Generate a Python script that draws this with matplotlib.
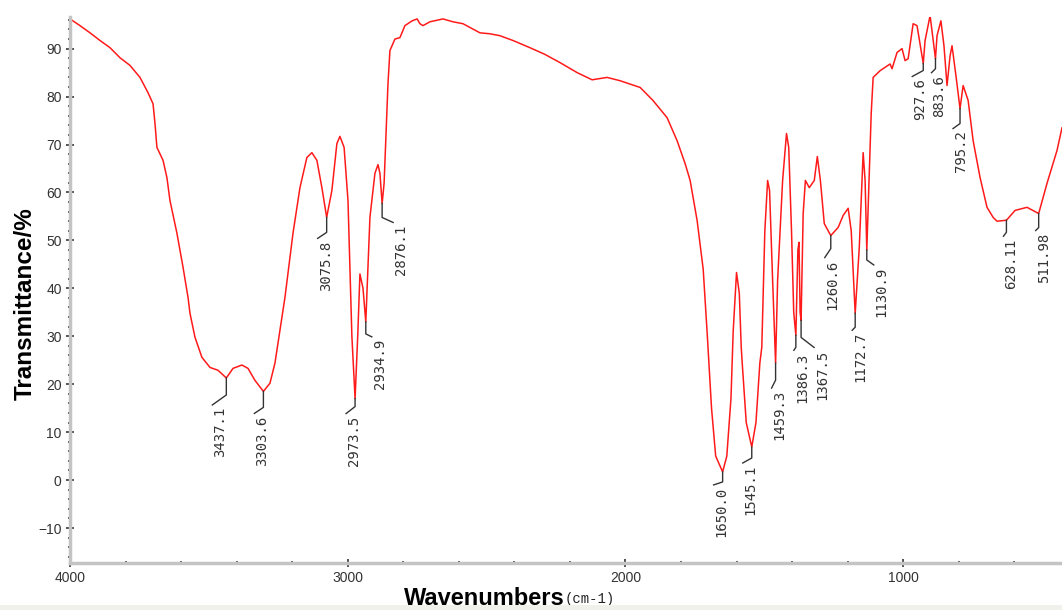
import numpy as np
import matplotlib.pyplot as plt
from matplotlib.ticker import MultipleLocator, FixedLocator
from matplotlib.transforms import offset_copy
from matplotlib.patches import Rectangle

# FTIR spectrum (wavenumber cm-1, transmittance %)
wavenumber = [
    4000, 3964, 3928, 3892, 3856, 3820, 3784, 3748, 3719, 3701, 3694, 3687,
    3665, 3651, 3640, 3615, 3593, 3575, 3568, 3550, 3525, 3496, 3467, 3437.1,
    3413, 3381, 3359, 3334, 3303.6, 3280, 3262, 3244, 3226, 3197, 3172, 3147,
    3129, 3111, 3093, 3075.8, 3057, 3039, 3028, 3013, 2999, 2992, 2985, 2973.5,
    2964, 2956, 2945, 2934.9, 2920, 2902, 2891, 2884, 2876.1, 2869, 2862, 2855,
    2848, 2830, 2812, 2794, 2768, 2750, 2740, 2729, 2704, 2657, 2621, 2585,
    2524, 2488, 2452, 2405, 2344, 2290, 2236, 2174, 2120, 2066, 2019, 1947,
    1901, 1850, 1814, 1785, 1767, 1742, 1720, 1705, 1690, 1675, 1650.0, 1635,
    1620, 1612, 1600, 1590, 1583, 1579, 1565, 1545.1, 1530, 1516, 1509, 1498,
    1488, 1481, 1470, 1459.3, 1452, 1434, 1420, 1412, 1402, 1394, 1386.3, 1379,
    1375, 1371, 1367.5, 1360, 1352, 1338, 1320, 1309, 1298, 1284, 1260.6, 1234,
    1216, 1198, 1187, 1172.7, 1158, 1144, 1137, 1130.9, 1123, 1115, 1108, 1083,
    1047, 1040, 1022, 1004, 993, 982, 964, 950, 927.6, 921, 903, 883.6, 878,
    864, 853, 842, 831, 824, 810, 795.2, 784, 766, 748, 723, 698, 676, 662,
    628.11, 597, 554, 511.98, 482, 446, 428,
]
transmittance = [
    96.2, 94.8, 93.3, 91.7, 90.2, 88.1, 86.5, 84.0, 80.8, 78.5, 74.4, 69.4,
    66.7, 63.1, 58.3, 51.5, 44.4, 38.1, 34.8, 29.8, 25.6, 23.5, 22.9, 21.3,
    23.3, 24.0, 23.3, 20.8, 18.5, 20.2, 24.4, 31.3, 38.1, 51.5, 61.0, 67.3,
    68.3, 66.7, 61.0, 54.8, 60.4, 70.2, 71.7, 69.4, 58.3, 44.4, 30.0, 17.0,
    30.0, 43.0, 40.0, 33.0, 54.8, 64.0, 65.8, 64.0, 57.7, 61.9, 72.3, 82.7,
    89.6, 92.0, 92.3, 94.8, 95.8, 96.2, 95.2, 94.8, 95.6, 96.2, 95.6, 95.2,
    93.3, 93.1, 92.7, 91.7, 90.2, 88.8, 87.1, 85.0, 83.5, 84.0, 83.3, 81.9,
    79.2, 75.6, 70.8, 66.0, 62.5, 54.2, 44.0, 30.0, 15.0, 5.0, 1.7, 5.0,
    17.0, 31.0, 43.3, 39.0, 27.7, 24.0, 12.0, 6.9, 12.0, 24.4, 27.7, 52.0,
    62.5, 60.4, 41.7, 24.4, 41.7, 62.5, 72.3, 69.4, 52.0, 35.0, 30.2, 48.0,
    49.6, 35.0, 33.3, 55.6, 62.5, 61.0, 62.5, 67.5, 62.5, 53.5, 51.0, 52.7,
    55.2, 56.7, 52.0, 34.8, 48.5, 68.3, 62.5, 48.0, 62.5, 76.5, 84.0, 85.4,
    86.8, 85.8, 89.2, 90.0, 87.5, 87.9, 95.2, 94.8, 86.9, 91.7, 96.9, 87.9, 92.7,
    95.8, 90.6, 82.3, 88.5, 90.6, 84.4, 77.5, 82.3, 79.2, 70.8, 63.1, 56.9, 54.8, 54.0,
    54.2, 56.25, 56.9, 55.6, 61.9, 68.75, 73.5,
]

peak_wn = [3437.1, 3303.6, 3075.8, 2973.5, 2934.9, 2876.1, 1650.0, 1545.1,
           1459.3, 1386.3, 1367.5, 1260.6, 1172.7, 1130.9, 927.6, 883.6,
           795.2, 628.11, 511.98]
peak_text = ["3437.1", "3303.6", "3075.8", "2973.5", "2934.9", "2876.1",
             "1650.0", "1545.1", "1459.3", "1386.3", "1367.5", "1260.6",
             "1172.7", "1130.9", "927.6", "883.6", "795.2", "628.11", "511.98"]
# leader shape in pixels: vertical drop, then diagonal (dx, dy)
leader = [(17, -14, 10), (16, -9, 6), (15, -9, 6), (8, -9, 7), (12, 6, 3),
          (14, 11, 5), (10, -9, 3), (11, -9, 5), (17, -4, 8), (12, -2, 3),
          (17, 13, 10), (13, -6, 9), (14, -3, 3), (10, 7, 5), (7, -11, 6),
          (10, -4, 4), (15, -7, 5), (12, -3, 4), (14, -3, 3)]

W, H = 1062, 610
fig = plt.figure(figsize=(W / 100, H / 100), dpi=100)
ax = fig.add_axes([70 / W, 1 - 563 / H, 1 - 70 / W, (563 - 17) / H])

wn = np.array(wavenumber)
tr = np.array(transmittance)
ax.plot(wn, tr, color="#ff1a1a", linewidth=1.1)

ax.set_xlim(4000, 428)
ax.set_ylim(-17.3, 96.6)

ax.xaxis.set_major_locator(FixedLocator([4000, 3000, 2000, 1000]))
ax.xaxis.set_minor_locator(MultipleLocator(200))
ax.yaxis.set_major_locator(MultipleLocator(10))
ax.yaxis.set_minor_locator(MultipleLocator(2))

for side in ("top", "right"):
    ax.spines[side].set_visible(False)
for side in ("left", "bottom"):
    ax.spines[side].set_color("#c4c4c4")
    ax.spines[side].set_linewidth(2.5)

ax.tick_params(which="major", direction="inout", length=6, width=1.2,
               color="#333333", labelsize=10, labelcolor="#333333", pad=3)
ax.tick_params(which="minor", direction="inout", length=3, width=1.2,
               color="#333333")
for lab in ax.get_xticklabels() + ax.get_yticklabels():
    lab.set_family("Liberation Sans")

# peak labels with bent leaders
peak_tr = np.interp(peak_wn, wn[::-1], tr[::-1])
for x, y, txt, (v, dx, dy) in zip(peak_wn, peak_tr, peak_text, leader):
    px, py = ax.transData.transform((x, y))
    xs = [px, px, px + dx]
    ys = [py, py - v, py - v - dy]
    pts = ax.transData.inverted().transform(np.column_stack([xs, ys]))
    ax.plot(pts[:, 0], pts[:, 1], color="#333333", linewidth=1.0)
    tr_off = offset_copy(ax.transData, fig=fig, x=dx + 1, y=-(v + dy + 2), units="dots")
    ax.text(x, y, txt, transform=tr_off, rotation=90, ha="left", va="top",
            fontsize=10, family="DejaVu Sans Mono", color="#333333")

fig.text(25 / W, 1 - 304 / H, "Transmittance/%", rotation=90, ha="center",
         va="center", fontsize=17.5, fontweight="bold", family="Liberation Sans")
fig.text(404 / W, 1 - 605 / H, "Wavenumbers", ha="left", va="baseline",
         fontsize=17, fontweight="bold", family="Liberation Sans")
fig.text(565 / W, 1 - 603 / H, "(cm-1)", ha="left", va="baseline",
         fontsize=10, family="Liberation Mono", color="#222222")

fig.patches.append(Rectangle((0, 0), 1, 5 / H, transform=fig.transFigure,
                             facecolor="#f1f1ec", edgecolor="none", zorder=10))

fig.savefig("out.png", dpi=100)
